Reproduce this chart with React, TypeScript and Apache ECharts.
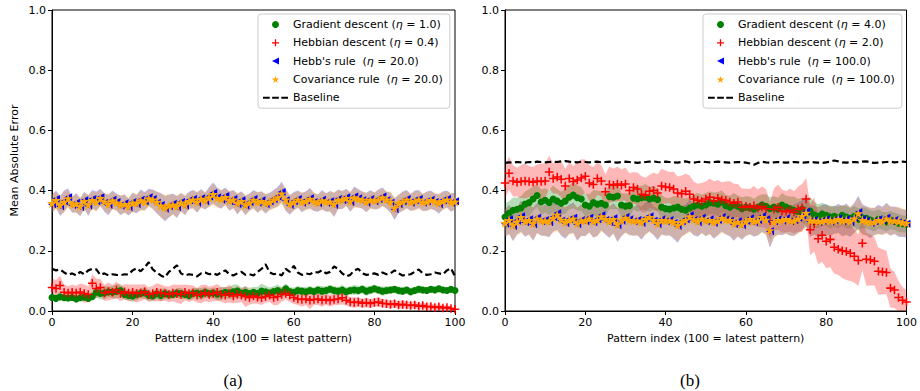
import React, { useEffect, useRef } from 'react';
import * as echarts from 'echarts';

// x categories (pattern index 0..100)
const PATTERN_INDEX: string[] = Array.from({ length: 101 }, (_, i) => String(i));

// ---------- Panel (a) ----------
const A_NAMES = ['Gradient descent (η = 1.0)', 'Hebbian descent (η = 0.4)', "Hebb's rule  (η = 20.0)", 'Covariance rule  (η = 20.0)', 'Baseline'];

const A_BASE = [
  0.140, 0.135, 0.138, 0.128, 0.120, 0.125, 0.118, 0.130, 0.122, 0.135,
  0.140, 0.138, 0.120, 0.125, 0.118, 0.122, 0.120, 0.119, 0.122, 0.121,
  0.135, 0.142, 0.132, 0.145, 0.162, 0.138, 0.128, 0.118, 0.112, 0.130,
  0.140, 0.152, 0.125, 0.118, 0.122, 0.120, 0.115, 0.125, 0.128, 0.122,
  0.125, 0.120, 0.128, 0.135, 0.122, 0.118, 0.125, 0.130, 0.120, 0.122,
  0.118, 0.130, 0.140, 0.155, 0.128, 0.122, 0.125, 0.118, 0.140, 0.130,
  0.150, 0.128, 0.120, 0.125, 0.122, 0.130, 0.128, 0.135, 0.125, 0.130,
  0.148, 0.140, 0.125, 0.115, 0.120, 0.135, 0.140, 0.125, 0.120, 0.122,
  0.125, 0.120, 0.128, 0.122, 0.125, 0.135, 0.125, 0.118, 0.120, 0.122,
  0.130, 0.138, 0.125, 0.120, 0.122, 0.128, 0.125, 0.122, 0.135, 0.142,
  0.115,
];
const A_GD = [
  0.045, 0.042, 0.047, 0.044, 0.043, 0.045, 0.040, 0.044, 0.046, 0.042,
  0.048, 0.062, 0.058, 0.060, 0.064, 0.062, 0.065, 0.068, 0.055, 0.052,
  0.050, 0.054, 0.058, 0.060, 0.052, 0.050, 0.057, 0.052, 0.058, 0.054,
  0.055, 0.060, 0.058, 0.055, 0.052, 0.058, 0.060, 0.056, 0.062, 0.058,
  0.060, 0.056, 0.058, 0.062, 0.060, 0.064, 0.066, 0.060, 0.062, 0.058,
  0.062, 0.058, 0.066, 0.064, 0.060, 0.065, 0.068, 0.062, 0.074, 0.065,
  0.062, 0.068, 0.066, 0.064, 0.068, 0.065, 0.070, 0.066, 0.068, 0.072,
  0.068, 0.066, 0.070, 0.064, 0.068, 0.070, 0.068, 0.072, 0.066, 0.070,
  0.074, 0.070, 0.066, 0.068, 0.070, 0.072, 0.068, 0.066, 0.070, 0.064,
  0.068, 0.072, 0.070, 0.068, 0.072, 0.070, 0.074, 0.070, 0.068, 0.072,
  0.068,
];
const A_GD_SD = [
  0.010, 0.012, 0.010, 0.011, 0.012, 0.010, 0.013, 0.012, 0.011, 0.012,
  0.015, 0.018, 0.020, 0.022, 0.018, 0.020, 0.024, 0.022, 0.018, 0.016,
  0.020, 0.018, 0.016, 0.020, 0.018, 0.015, 0.017, 0.020, 0.018, 0.016,
  0.014, 0.016, 0.018, 0.015, 0.016, 0.018, 0.016, 0.020, 0.018, 0.016,
  0.018, 0.020, 0.022, 0.018, 0.020, 0.024, 0.022, 0.018, 0.020, 0.019,
  0.018, 0.022, 0.025, 0.020, 0.018, 0.017, 0.020, 0.016, 0.018, 0.015,
  0.016, 0.015, 0.014, 0.016, 0.015, 0.014, 0.015, 0.016, 0.014, 0.015,
  0.015, 0.014, 0.016, 0.015, 0.014, 0.016, 0.015, 0.014, 0.015, 0.014,
  0.014, 0.013, 0.015, 0.014, 0.013, 0.012, 0.014, 0.013, 0.012, 0.013,
  0.012, 0.013, 0.012, 0.011, 0.012, 0.011, 0.012, 0.011, 0.010, 0.011,
  0.010,
];
const A_HD = [
  0.078, 0.075, 0.085, 0.062, 0.060, 0.062, 0.060, 0.063, 0.058, 0.055,
  0.092, 0.075, 0.078, 0.060, 0.065, 0.062, 0.070, 0.058, 0.064, 0.060,
  0.062, 0.058, 0.060, 0.064, 0.055, 0.058, 0.062, 0.060, 0.058, 0.055,
  0.060, 0.057, 0.055, 0.062, 0.058, 0.060, 0.052, 0.056, 0.060, 0.055,
  0.058, 0.062, 0.055, 0.052, 0.058, 0.050, 0.055, 0.052, 0.048, 0.045,
  0.050, 0.046, 0.044, 0.048, 0.052, 0.045, 0.048, 0.055, 0.058, 0.052,
  0.045, 0.040, 0.038, 0.040, 0.036, 0.038, 0.040, 0.036, 0.038, 0.035,
  0.038, 0.040, 0.044, 0.036, 0.030, 0.028, 0.030, 0.026, 0.028, 0.025,
  0.028, 0.030, 0.026, 0.024, 0.022, 0.024, 0.020, 0.022, 0.020, 0.018,
  0.020, 0.016, 0.018, 0.014, 0.015, 0.012, 0.014, 0.010, 0.012, 0.008,
  0.006,
];
const A_HD_SD = [
  0.030, 0.028, 0.032, 0.025, 0.022, 0.026, 0.024, 0.028, 0.030, 0.026,
  0.030, 0.032, 0.028, 0.026, 0.030, 0.024, 0.028, 0.026, 0.025, 0.028,
  0.026, 0.030, 0.028, 0.025, 0.024, 0.026, 0.030, 0.028, 0.024, 0.026,
  0.028, 0.030, 0.032, 0.026, 0.028, 0.025, 0.024, 0.030, 0.028, 0.026,
  0.026, 0.028, 0.024, 0.026, 0.030, 0.024, 0.028, 0.022, 0.035, 0.024,
  0.025, 0.022, 0.024, 0.020, 0.022, 0.026, 0.028, 0.024, 0.020, 0.022,
  0.022, 0.020, 0.024, 0.020, 0.030, 0.018, 0.020, 0.022, 0.018, 0.020,
  0.018, 0.020, 0.022, 0.018, 0.016, 0.018, 0.016, 0.015, 0.016, 0.014,
  0.014, 0.016, 0.014, 0.013, 0.012, 0.013, 0.012, 0.014, 0.012, 0.011,
  0.012, 0.010, 0.011, 0.010, 0.010, 0.009, 0.010, 0.008, 0.008, 0.007,
  0.006,
];
const A_HEBB = [
  0.355, 0.372, 0.348, 0.365, 0.378, 0.352, 0.360, 0.345, 0.368, 0.350,
  0.372, 0.365, 0.378, 0.360, 0.352, 0.370, 0.362, 0.350, 0.358, 0.345,
  0.362, 0.355, 0.370, 0.365, 0.378, 0.372, 0.360, 0.352, 0.340, 0.348,
  0.356, 0.345, 0.362, 0.350, 0.368, 0.372, 0.360, 0.375, 0.365, 0.380,
  0.392, 0.378, 0.370, 0.382, 0.365, 0.372, 0.355, 0.368, 0.350, 0.362,
  0.372, 0.360, 0.368, 0.355, 0.365, 0.372, 0.380, 0.395, 0.368, 0.352,
  0.365, 0.372, 0.360, 0.368, 0.375, 0.362, 0.358, 0.370, 0.360, 0.365,
  0.352, 0.372, 0.368, 0.378, 0.362, 0.380, 0.375, 0.368, 0.360, 0.372,
  0.365, 0.372, 0.380, 0.368, 0.360, 0.338, 0.355, 0.365, 0.372, 0.360,
  0.368, 0.372, 0.360, 0.365, 0.370, 0.362, 0.355, 0.368, 0.372, 0.360,
  0.365,
];
const A_COV = [
  0.358, 0.368, 0.352, 0.362, 0.374, 0.355, 0.357, 0.348, 0.365, 0.353,
  0.368, 0.362, 0.375, 0.363, 0.355, 0.367, 0.360, 0.353, 0.355, 0.348,
  0.360, 0.358, 0.367, 0.362, 0.374, 0.370, 0.362, 0.350, 0.343, 0.350,
  0.353, 0.348, 0.360, 0.353, 0.365, 0.370, 0.362, 0.372, 0.367, 0.377,
  0.388, 0.375, 0.372, 0.378, 0.367, 0.370, 0.358, 0.365, 0.353, 0.360,
  0.369, 0.362, 0.365, 0.358, 0.362, 0.370, 0.377, 0.390, 0.370, 0.355,
  0.362, 0.370, 0.362, 0.365, 0.372, 0.364, 0.360, 0.367, 0.362, 0.363,
  0.355, 0.369, 0.370, 0.375, 0.364, 0.377, 0.372, 0.370, 0.362, 0.369,
  0.367, 0.370, 0.377, 0.370, 0.362, 0.342, 0.357, 0.363, 0.370, 0.362,
  0.365, 0.370, 0.362, 0.363, 0.368, 0.364, 0.358, 0.365, 0.370, 0.362,
  0.363,
];
const A_RULE_SD = [
  0.030, 0.028, 0.032, 0.035, 0.030, 0.026, 0.032, 0.030, 0.028, 0.034,
  0.030, 0.032, 0.028, 0.030, 0.034, 0.030, 0.028, 0.032, 0.030, 0.028,
  0.032, 0.030, 0.034, 0.030, 0.028, 0.032, 0.036, 0.040, 0.042, 0.038,
  0.034, 0.036, 0.030, 0.032, 0.028, 0.030, 0.034, 0.030, 0.028, 0.032,
  0.035, 0.032, 0.030, 0.028, 0.032, 0.030, 0.034, 0.030, 0.032, 0.028,
  0.030, 0.034, 0.030, 0.032, 0.028, 0.030, 0.032, 0.034, 0.036, 0.032,
  0.030, 0.028, 0.032, 0.030, 0.034, 0.030, 0.028, 0.032, 0.030, 0.034,
  0.040, 0.032, 0.030, 0.028, 0.032, 0.034, 0.030, 0.028, 0.032, 0.030,
  0.028, 0.032, 0.030, 0.028, 0.034, 0.036, 0.030, 0.032, 0.030, 0.028,
  0.032, 0.030, 0.028, 0.032, 0.030, 0.028, 0.032, 0.030, 0.028, 0.030,
  0.028,
];

// ---------- Panel (b) ----------
const B_NAMES = ['Gradient descent (η = 4.0)', 'Hebbian descent (η = 2.0)', "Hebb's rule  (η = 100.0)", 'Covariance rule  (η = 100.0)', 'Baseline'];

const B_BASE = [
  0.492, 0.494, 0.493, 0.495, 0.494, 0.493, 0.495, 0.494, 0.496, 0.495,
  0.494, 0.495, 0.496, 0.495, 0.497, 0.498, 0.496, 0.495, 0.494, 0.496,
  0.495, 0.494, 0.495, 0.496, 0.494, 0.495, 0.496, 0.494, 0.493, 0.495,
  0.496, 0.495, 0.494, 0.492, 0.494, 0.495, 0.496, 0.497, 0.495, 0.494,
  0.496, 0.495, 0.494, 0.493, 0.495, 0.497, 0.494, 0.493, 0.495, 0.496,
  0.495, 0.494, 0.495, 0.496, 0.495, 0.494, 0.493, 0.494, 0.495, 0.494,
  0.493, 0.490, 0.486, 0.492, 0.496, 0.494, 0.493, 0.494, 0.495, 0.494,
  0.493, 0.494, 0.495, 0.494, 0.493, 0.494, 0.495, 0.494, 0.493, 0.492,
  0.494, 0.496, 0.500, 0.497, 0.494, 0.493, 0.494, 0.495, 0.494, 0.496,
  0.497, 0.494, 0.492, 0.493, 0.494, 0.495, 0.496, 0.494, 0.495, 0.496,
  0.495,
];
const B_GD = [
  0.312, 0.325, 0.335, 0.338, 0.342, 0.355, 0.360, 0.372, 0.384, 0.362,
  0.368, 0.360, 0.372, 0.365, 0.358, 0.365, 0.378, 0.385, 0.376, 0.372,
  0.352, 0.348, 0.360, 0.355, 0.358, 0.352, 0.380, 0.378, 0.382, 0.352,
  0.348, 0.350, 0.375, 0.372, 0.376, 0.378, 0.372, 0.375, 0.370, 0.345,
  0.340, 0.338, 0.342, 0.345, 0.338, 0.335, 0.342, 0.348, 0.352, 0.348,
  0.352, 0.360, 0.358, 0.355, 0.362, 0.350, 0.345, 0.352, 0.348, 0.340,
  0.345, 0.342, 0.338, 0.345, 0.352, 0.348, 0.340, 0.345, 0.338, 0.352,
  0.345, 0.340, 0.335, 0.330, 0.338, 0.325, 0.332, 0.320, 0.315, 0.322,
  0.318, 0.312, 0.315, 0.310, 0.318, 0.312, 0.308, 0.315, 0.305, 0.310,
  0.308, 0.302, 0.298, 0.305, 0.300, 0.296, 0.302, 0.298, 0.292, 0.290,
  0.288,
];
const B_GD_SD = [
  0.045, 0.040, 0.042, 0.038, 0.040, 0.042, 0.045, 0.040, 0.038, 0.042,
  0.040, 0.042, 0.045, 0.040, 0.038, 0.042, 0.040, 0.044, 0.042, 0.040,
  0.038, 0.040, 0.042, 0.045, 0.040, 0.038, 0.042, 0.040, 0.044, 0.040,
  0.042, 0.040, 0.038, 0.042, 0.040, 0.044, 0.042, 0.040, 0.038, 0.040,
  0.036, 0.038, 0.040, 0.036, 0.038, 0.040, 0.036, 0.038, 0.040, 0.038,
  0.040, 0.038, 0.036, 0.040, 0.038, 0.036, 0.038, 0.040, 0.036, 0.038,
  0.036, 0.038, 0.035, 0.038, 0.036, 0.040, 0.038, 0.036, 0.038, 0.040,
  0.038, 0.040, 0.045, 0.042, 0.040, 0.045, 0.048, 0.042, 0.040, 0.038,
  0.036, 0.038, 0.035, 0.036, 0.034, 0.036, 0.035, 0.034, 0.036, 0.035,
  0.034, 0.032, 0.034, 0.032, 0.030, 0.032, 0.030, 0.028, 0.030, 0.028,
  0.028,
];
const B_HD = [
  0.425, 0.458, 0.432, 0.428, 0.430, 0.432, 0.430, 0.428, 0.432, 0.430,
  0.432, 0.462, 0.440, 0.445, 0.438, 0.415, 0.440, 0.430, 0.435, 0.442,
  0.448, 0.425, 0.420, 0.440, 0.432, 0.396, 0.420, 0.418, 0.422, 0.418,
  0.422, 0.400, 0.410, 0.405, 0.388, 0.385, 0.398, 0.400, 0.392, 0.415,
  0.412, 0.410, 0.405, 0.392, 0.390, 0.398, 0.388, 0.372, 0.368, 0.365,
  0.372, 0.378, 0.366, 0.375, 0.370, 0.368, 0.362, 0.358, 0.362, 0.345,
  0.348, 0.345, 0.350, 0.342, 0.346, 0.340, 0.300, 0.338, 0.345, 0.332,
  0.330, 0.335, 0.328, 0.338, 0.342, 0.372, 0.270, 0.288, 0.240, 0.252,
  0.232, 0.238, 0.212, 0.205, 0.200, 0.198, 0.192, 0.182, 0.168, 0.225,
  0.172, 0.170, 0.165, 0.132, 0.130, 0.128, 0.076, 0.070, 0.045, 0.036,
  0.030,
];
const B_HD_SD = [
  0.050, 0.055, 0.052, 0.048, 0.055, 0.058, 0.052, 0.050, 0.055, 0.060,
  0.058, 0.055, 0.050, 0.055, 0.060, 0.058, 0.055, 0.052, 0.058, 0.062,
  0.055, 0.060, 0.058, 0.055, 0.052, 0.058, 0.060, 0.055, 0.058, 0.052,
  0.055, 0.058, 0.052, 0.055, 0.060, 0.058, 0.055, 0.060, 0.062, 0.058,
  0.055, 0.052, 0.058, 0.055, 0.060, 0.058, 0.062, 0.058, 0.055, 0.060,
  0.058, 0.062, 0.065, 0.060, 0.058, 0.062, 0.070, 0.065, 0.060, 0.062,
  0.058, 0.060, 0.065, 0.062, 0.068, 0.065, 0.062, 0.070, 0.075, 0.072,
  0.068, 0.072, 0.070, 0.075, 0.080, 0.070, 0.085, 0.090, 0.085, 0.088,
  0.090, 0.092, 0.088, 0.085, 0.090, 0.095, 0.092, 0.088, 0.085, 0.090,
  0.088, 0.085, 0.080, 0.078, 0.075, 0.072, 0.065, 0.060, 0.050, 0.040,
  0.035,
];
const B_HEBB = [
  0.290, 0.305, 0.282, 0.300, 0.315, 0.295, 0.305, 0.288, 0.310, 0.298,
  0.302, 0.295, 0.312, 0.325, 0.300, 0.292, 0.305, 0.310, 0.288, 0.302,
  0.298, 0.310, 0.295, 0.305, 0.318, 0.302, 0.295, 0.308, 0.285, 0.300,
  0.312, 0.305, 0.298, 0.302, 0.292, 0.308, 0.315, 0.300, 0.288, 0.305,
  0.298, 0.302, 0.292, 0.282, 0.298, 0.305, 0.318, 0.302, 0.295, 0.310,
  0.298, 0.305, 0.292, 0.302, 0.312, 0.305, 0.300, 0.288, 0.298, 0.285,
  0.300, 0.308, 0.295, 0.302, 0.315, 0.305, 0.265, 0.298, 0.305, 0.300,
  0.308, 0.298, 0.302, 0.310, 0.318, 0.330, 0.298, 0.302, 0.295, 0.300,
  0.305, 0.298, 0.302, 0.308, 0.298, 0.305, 0.295, 0.310, 0.328, 0.305,
  0.300, 0.292, 0.298, 0.305, 0.300, 0.310, 0.298, 0.302, 0.295, 0.292,
  0.290,
];
const B_COV = [
  0.293, 0.302, 0.285, 0.297, 0.312, 0.298, 0.302, 0.291, 0.307, 0.300,
  0.300, 0.298, 0.309, 0.320, 0.303, 0.295, 0.302, 0.307, 0.291, 0.300,
  0.300, 0.307, 0.298, 0.302, 0.314, 0.305, 0.298, 0.305, 0.288, 0.302,
  0.309, 0.302, 0.300, 0.300, 0.295, 0.305, 0.312, 0.302, 0.291, 0.302,
  0.300, 0.300, 0.295, 0.285, 0.296, 0.302, 0.314, 0.304, 0.298, 0.307,
  0.300, 0.302, 0.295, 0.300, 0.309, 0.303, 0.302, 0.291, 0.296, 0.288,
  0.298, 0.305, 0.298, 0.300, 0.312, 0.303, 0.268, 0.296, 0.302, 0.302,
  0.305, 0.300, 0.300, 0.307, 0.315, 0.326, 0.300, 0.300, 0.298, 0.298,
  0.302, 0.300, 0.300, 0.305, 0.300, 0.302, 0.298, 0.307, 0.324, 0.302,
  0.298, 0.295, 0.296, 0.302, 0.298, 0.307, 0.300, 0.300, 0.298, 0.294,
  0.292,
];
const B_RULE_SD = [
  0.045, 0.048, 0.050, 0.045, 0.052, 0.048, 0.050, 0.055, 0.050, 0.048,
  0.052, 0.050, 0.048, 0.055, 0.050, 0.052, 0.048, 0.050, 0.055, 0.052,
  0.050, 0.048, 0.052, 0.055, 0.050, 0.048, 0.052, 0.050, 0.056, 0.052,
  0.050, 0.052, 0.048, 0.050, 0.055, 0.052, 0.050, 0.048, 0.052, 0.050,
  0.048, 0.050, 0.052, 0.055, 0.050, 0.048, 0.052, 0.050, 0.048, 0.050,
  0.050, 0.048, 0.052, 0.050, 0.048, 0.050, 0.052, 0.055, 0.050, 0.048,
  0.050, 0.052, 0.048, 0.050, 0.052, 0.050, 0.055, 0.052, 0.050, 0.048,
  0.050, 0.048, 0.052, 0.050, 0.048, 0.050, 0.052, 0.048, 0.050, 0.052,
  0.050, 0.048, 0.045, 0.048, 0.050, 0.052, 0.048, 0.050, 0.055, 0.050,
  0.048, 0.050, 0.045, 0.048, 0.046, 0.050, 0.048, 0.045, 0.048, 0.046,
  0.045,
];

const X_NAME = 'Pattern index (100 = latest pattern)';
const Y_NAME = 'Mean Absolute Error';
const CAPTIONS = ['(a)', '(b)'];

const FONT = 'DejaVu Sans';
const TXT = '#000';

const PLUS = 'path://M4.1,0H5.9V4.1H10V5.9H5.9V10H4.1V5.9H0V4.1H4.1Z';
const LTRI = 'path://M0,5L10,0L10,10Z';
const STAR = 'path://M10,0L12.23,6.93L19.51,6.91L13.61,11.17L15.88,18.09L10,13.8L4.12,18.09L6.39,11.17L0.49,6.91L7.77,6.93Z';
const DASHES = 'path://M0,0H7V2.2H0Z M9.5,0H16.5V2.2H9.5Z M19,0H26V2.2H19Z';

function band(id: string, idx: number, mean: number[], sd: number[], color: string, z: number) {
  return [
    {
      name: id + '-lo', type: 'line', xAxisIndex: idx, yAxisIndex: idx, stack: id, z,
      data: mean.map((m, i) => m - sd[i]), symbol: 'none', silent: true,
      lineStyle: { width: 0, opacity: 0 },
    },
    {
      name: id + '-hi', type: 'line', xAxisIndex: idx, yAxisIndex: idx, stack: id, z,
      data: sd.map((s) => 2 * s), symbol: 'none', silent: true,
      lineStyle: { width: 0, opacity: 0 },
      areaStyle: { color, opacity: 1 },
    },
  ];
}

function scatter(name: string, idx: number, data: number[], symbol: string, size: number, color: string, z: number) {
  return {
    name, type: 'scatter', xAxisIndex: idx, yAxisIndex: idx, data, z,
    symbol, symbolSize: size, itemStyle: { color, opacity: 1 },
  };
}

function panel(p: string, idx: number, names: string[], gd: number[], gdSd: number[], hd: number[], hdSd: number[],
  hebb: number[], cov: number[], ruleSd: number[], base: number[]) {
  return [
    ...band(p + 'gd', idx, gd, gdSd, 'rgba(0,128,0,0.28)', 1),
    scatter(names[0], idx, gd, 'circle', 7, '#008000', 5),
    ...band(p + 'hd', idx, hd, hdSd, 'rgba(255,0,0,0.28)', 2),
    scatter(names[1], idx, hd, PLUS, 8.5, '#ff0000', 6),
    ...band(p + 'hebb', idx, hebb, ruleSd, 'rgba(0,0,255,0.28)', 3),
    scatter(names[2], idx, hebb, LTRI, 8, '#0000ff', 7),
    ...band(p + 'cov', idx, cov, ruleSd, 'rgba(255,165,0,0.32)', 4),
    scatter(names[3], idx, cov, STAR, 10, '#ffa500', 8),
    {
      name: names[4], type: 'line', xAxisIndex: idx, yAxisIndex: idx, data: base, z: 9,
      symbol: 'none', lineStyle: { color: '#000', width: 2.2, type: [6.5, 3.5] }, itemStyle: { color: '#000' },
    },
  ];
}

const every20 = (i: number) => i % 20 === 0;

function xAxis(idx: number) {
  return {
    type: 'category', gridIndex: idx, data: PATTERN_INDEX, boundaryGap: false,
    axisLine: { show: true, lineStyle: { color: '#000', width: 1 } },
    axisTick: { show: true, interval: every20, length: 4, lineStyle: { color: '#000' } },
    axisLabel: { interval: every20, color: TXT, fontFamily: FONT, fontSize: 11, margin: 6 },
    splitLine: { show: false },
    name: X_NAME, nameLocation: 'middle', nameGap: 20,
    nameTextStyle: { color: TXT, fontFamily: FONT, fontSize: 11 },
  };
}

function yAxis(idx: number, withName: boolean) {
  return {
    type: 'value', gridIndex: idx, min: 0, max: 1, interval: 0.2,
    axisLine: { show: true, lineStyle: { color: '#000', width: 1 } },
    axisTick: { show: true, length: 4, lineStyle: { color: '#000' } },
    axisLabel: { color: TXT, fontFamily: FONT, fontSize: 11, margin: 6, formatter: (v: number) => v.toFixed(1) },
    splitLine: { show: false },
    name: withName ? Y_NAME : '', nameLocation: 'middle', nameGap: 32,
    nameTextStyle: { color: TXT, fontFamily: FONT, fontSize: 11 },
  };
}

function legend(names: string[], left: number) {
  const data = names.map((n, i) => (i === 4 ? { name: n, icon: DASHES, itemStyle: { color: '#000' } } : { name: n }));
  return {
    data, orient: 'vertical', left, top: 14,
    itemWidth: 25, itemHeight: 7, itemGap: 5.3,
    padding: [4, 7, 4, 5],
    backgroundColor: 'rgba(255,255,255,0.85)', borderColor: '#cccccc', borderWidth: 1, borderRadius: 3,
    selectedMode: false,
    formatter: (n: string) => n.replace('η', '{i|η}'),
    textStyle: {
      color: TXT, fontFamily: FONT, fontSize: 11, lineHeight: 13,
      rich: { i: { fontStyle: 'italic', fontFamily: FONT, fontSize: 11, color: TXT, lineHeight: 13 } },
    },
  };
}

export default function App() {
  const ref = useRef<HTMLDivElement>(null);
  useEffect(() => {
    if (!ref.current) return;
    const chart = echarts.init(ref.current, undefined, { renderer: 'svg' });
    chart.setOption({
      animation: false,
      backgroundColor: '#fff',
      grid: [
        { left: 52, right: 465, top: 10, bottom: 80, show: true, borderColor: '#000', borderWidth: 1, backgroundColor: 'transparent' },
        { left: 505, right: 11, top: 10, bottom: 80, show: true, borderColor: '#000', borderWidth: 1, backgroundColor: 'transparent' },
      ],
      xAxis: [xAxis(0), xAxis(1)],
      yAxis: [yAxis(0, true), yAxis(1, false)],
      legend: [legend(A_NAMES, 258), legend(B_NAMES, 703)],
      series: [
        ...panel('a', 0, A_NAMES, A_GD, A_GD_SD, A_HD, A_HD_SD, A_HEBB, A_COV, A_RULE_SD, A_BASE),
        ...panel('b', 1, B_NAMES, B_GD, B_GD_SD, B_HD, B_HD_SD, B_HEBB, B_COV, B_RULE_SD, B_BASE),
      ],
      graphic: [
        { type: 'text', x: 233, y: 380, style: { text: CAPTIONS[0], fontFamily: 'Liberation Serif', fontSize: 17, fill: '#000', align: 'center', verticalAlign: 'middle' } },
        { type: 'text', x: 690, y: 380, style: { text: CAPTIONS[1], fontFamily: 'Liberation Serif', fontSize: 17, fill: '#000', align: 'center', verticalAlign: 'middle' } },
      ],
    });
    return () => chart.dispose();
  }, []);
  return <div ref={ref} style={{ position: 'fixed', left: 0, top: 0, width: 920, height: 391 }} />;
}
